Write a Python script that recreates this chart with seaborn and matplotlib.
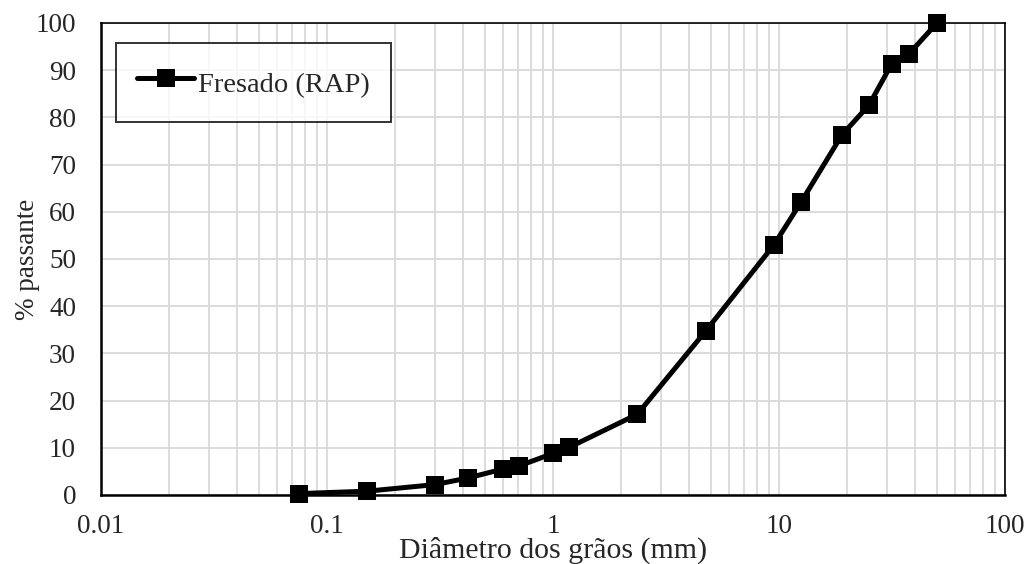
import matplotlib
matplotlib.use("Agg")
import matplotlib.pyplot as plt
import seaborn as sns
import pandas as pd
import numpy as np
from matplotlib.ticker import FixedLocator, FixedFormatter, LogLocator, NullFormatter

diametro = [0.075, 0.15, 0.3, 0.42, 0.6, 0.71, 1.0, 1.18, 2.36, 4.75, 9.5, 12.5, 19.0, 25.0, 31.5, 37.5, 50.0]
passante = [0.3, 0.8, 2.2, 3.6, 5.5, 6.2, 8.8, 10.1, 17.1, 34.8, 53.0, 62.0, 76.3, 82.6, 91.3, 93.4, 100.0]
serie = "Fresado (RAP)"
x_ticks = [0.01, 0.1, 1, 10, 100]
x_labels = ["0.01", "0.1", "1", "10", "100"]
y_ticks = list(range(0, 101, 10))

df = pd.DataFrame({"d": diametro, "p": passante, "s": serie})

sns.set_style("white")
plt.rcParams["font.family"] = ["Liberation Serif", "DejaVu Serif"]
plt.rcParams["font.size"] = 19.5

fig = plt.figure(figsize=(10.29, 5.64), dpi=100)
ax = fig.add_axes([101 / 1029, 1 - 495 / 564, (1005 - 101) / 1029, (495 - 23) / 564])

sns.lineplot(data=df, x="d", y="p", hue="s", palette=["black"], marker="s",
             markersize=13, markeredgewidth=0, linewidth=3.6, ax=ax, zorder=3,
             clip_on=False, solid_capstyle="round")

ax.set_xscale("log")
ax.set_xlim(0.01, 100)
ax.set_ylim(0, 100)
ax.xaxis.set_major_locator(FixedLocator(x_ticks))
ax.xaxis.set_major_formatter(FixedFormatter(x_labels))
ax.xaxis.set_minor_locator(LogLocator(base=10, subs=np.arange(2, 10)))
ax.xaxis.set_minor_formatter(NullFormatter())
ax.set_yticks(y_ticks)
ax.grid(True, which="both", axis="x", color="#d9d9d9", linewidth=1.3)
ax.grid(True, which="major", axis="y", color="#d9d9d9", linewidth=1.3)
ax.set_axisbelow(True)
ax.tick_params(axis="both", which="both", length=0, labelsize=19.5)
ax.tick_params(axis="y", pad=18)
ax.tick_params(axis="x", pad=14)
for s in ax.spines.values():
    s.set_color("black")
    s.set_linewidth(1.2)
ax.spines["left"].set_linewidth(1.8)
ax.spines["bottom"].set_linewidth(1.8)

ax.set_xlabel("Diâmetro dos grãos (mm)", fontsize=21.5, labelpad=-2)
ax.set_ylabel("% passante", fontsize=19.5, labelpad=-3)

h, l = ax.get_legend_handles_labels()
for hh in h:
    hh.set_solid_capstyle("round")
leg = ax.legend(h, l, loc="upper left", bbox_to_anchor=(0.0166, 0.9576), frameon=True,
                fancybox=False, edgecolor="black", fontsize=20.5, handlelength=2.0,
                handleheight=1.6, handletextpad=0.12, borderpad=0.75, borderaxespad=0)
leg.get_frame().set_linewidth(1.4)

fig.savefig("out.png", dpi=100)
